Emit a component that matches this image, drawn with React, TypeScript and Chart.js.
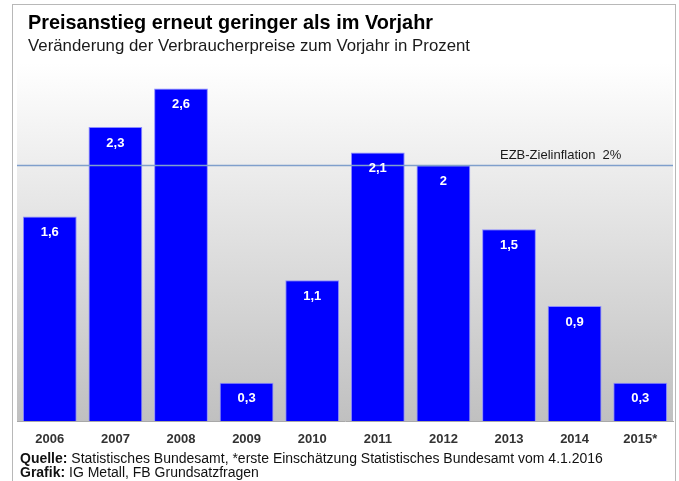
import React, { useEffect, useRef } from 'react';
import { Chart, registerables } from 'chart.js';

Chart.register(...registerables);

const categories = ['2006', '2007', '2008', '2009', '2010', '2011', '2012', '2013', '2014', '2015*'];
const values = [1.6, 2.3, 2.6, 0.3, 1.1, 2.1, 2.0, 1.5, 0.9, 0.3];
const valueLabels = ['1,6', '2,3', '2,6', '0,3', '1,1', '2,1', '2', '1,5', '0,9', '0,3'];
const targetValue = 2;
const targetLabel = 'EZB-Zielinflation  2%';
const titleText = 'Preisanstieg erneut geringer als im Vorjahr';
const subtitleText = 'Veränderung der Verbraucherpreise zum Vorjahr in Prozent';
const sourceLabel = 'Quelle:';
const sourceText = ' Statistisches Bundesamt, *erste Einschätzung Statistisches Bundesamt vom 4.1.2016';
const graphicLabel = 'Grafik:';
const graphicText = ' IG Metall, FB Grundsatzfragen';

const FONT = 'Arial, "Liberation Sans", sans-serif';

const decorPlugin = {
  id: 'decor',
  beforeDraw(chart: any) {
    const { ctx, chartArea } = chart;
    ctx.save();
    ctx.fillStyle = '#ffffff';
    ctx.fillRect(0, 0, chart.width, chart.height);
    ctx.strokeStyle = '#b8b8b8';
    ctx.lineWidth = 1;
    ctx.strokeRect(12.5, 4.5, 663, 500);
    const g = ctx.createLinearGradient(0, chartArea.top, 0, chartArea.bottom);
    g.addColorStop(0, '#ffffff');
    g.addColorStop(1, '#c0c0c0');
    ctx.fillStyle = g;
    ctx.fillRect(chartArea.left, chartArea.top, chartArea.right - chartArea.left, chartArea.bottom - chartArea.top);
    ctx.restore();
  },
  afterDatasetsDraw(chart: any) {
    const { ctx, chartArea } = chart;
    const yScale = chart.scales.y;
    ctx.save();
    // target line
    const ty = Math.round(yScale.getPixelForValue(targetValue)) + 0.5;
    ctx.strokeStyle = '#7f9fcc';
    ctx.lineWidth = 1.5;
    ctx.beginPath();
    ctx.moveTo(chartArea.left, ty);
    ctx.lineTo(chartArea.right, ty);
    ctx.stroke();
    ctx.fillStyle = '#1a1a1a';
    ctx.font = `13px ${FONT}`;
    ctx.textBaseline = 'alphabetic';
    ctx.textAlign = 'left';
    ctx.fillText(targetLabel, 500, ty - 7, 128);

    // value labels
    const meta = chart.getDatasetMeta(0);
    ctx.fillStyle = '#ffffff';
    ctx.font = `bold 13px ${FONT}`;
    ctx.textAlign = 'center';
    ctx.textBaseline = 'middle';
    meta.data.forEach((bar: any, i: number) => {
      ctx.fillText(valueLabels[i], bar.x, bar.y + 16);
    });

    // title & subtitle
    ctx.textAlign = 'left';
    ctx.textBaseline = 'alphabetic';
    ctx.fillStyle = '#000000';
    ctx.font = `bold 21px ${FONT}`;
    ctx.fillText(titleText, 28, 29, 405);
    ctx.fillStyle = '#1a1a1a';
    ctx.font = `17px ${FONT}`;
    ctx.fillText(subtitleText, 28, 51, 442);

    // footer
    const drawPair = (label: string, text: string, x: number, y: number, totalWidth: number | null) => {
      ctx.font = `bold 14px ${FONT}`;
      const lw = ctx.measureText(label).width;
      ctx.font = `14px ${FONT}`;
      const tw = ctx.measureText(text).width;
      const scale = totalWidth ? Math.min(1, totalWidth / (lw + tw)) : 1;
      ctx.fillStyle = '#111111';
      ctx.font = `bold 14px ${FONT}`;
      ctx.fillText(label, x, y, lw * scale);
      ctx.font = `14px ${FONT}`;
      ctx.fillText(text, x + lw * scale, y, tw * scale);
    };
    drawPair(sourceLabel, sourceText, 20, 463, 584);
    drawPair(graphicLabel, graphicText, 20, 477, null);
    ctx.restore();
  },
};

export default function App() {
  const canvasRef = useRef<HTMLCanvasElement | null>(null);

  useEffect(() => {
    if (!canvasRef.current) return;
    const chart = new Chart(canvasRef.current, {
      type: 'bar',
      data: {
        labels: categories,
        datasets: [
          {
            data: values,
            backgroundColor: '#0000ff',
            borderColor: '#8c8cff',
            borderWidth: 1,
            categoryPercentage: 1,
            barPercentage: 0.82,
          },
        ],
      },
      options: {
        responsive: false,
        animation: false,
        layout: { padding: { left: 17, right: 6, top: 63, bottom: 30 } },
        plugins: { legend: { display: false }, tooltip: { enabled: false }, title: { display: false } },
        scales: {
          x: {
            grid: { display: false },
            border: { display: true, color: '#a8a8a8' },
            ticks: { color: '#333333', font: { family: FONT, size: 13, weight: 'bold' }, padding: 3, maxRotation: 0 },
            afterFit: (s: any) => { s.height = 30; },
          },
          y: { display: false, min: 0, max: 2.8 },
        },
      },
      plugins: [decorPlugin],
    });
    return () => chart.destroy();
  }, []);

  return (
    <div style={{ position: 'fixed', left: 0, top: 0, width: 679, height: 481 }}>
      <canvas ref={canvasRef} width={679} height={481} style={{ width: 679, height: 481, display: 'block' }} />
    </div>
  );
}
